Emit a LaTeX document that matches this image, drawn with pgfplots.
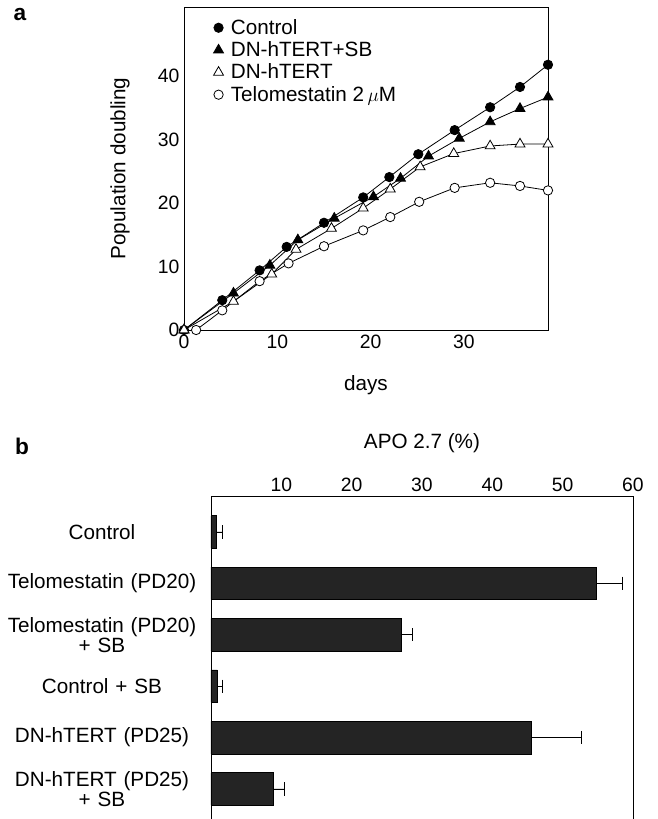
\documentclass[border=0pt]{standalone}
\usepackage{fontspec}
\setmainfont{Liberation Sans}
\usepackage{pgfplots}
\pgfplotsset{compat=1.18}

\begin{document}
\begin{tikzpicture}
\path[use as bounding box] (0,0) rectangle (493.5pt,-614.25pt);
\node[font=\fontsize{17}{19}\selectfont\bfseries] at (15pt,-11.25pt) {a};
\node[font=\fontsize{17}{19}\selectfont\bfseries] at (16.5pt,-334.5pt) {b};

% panel a: population doubling
\begin{axis}[
  at={(138pt,-247.5pt)}, anchor=south west,
  scale only axis, width=273pt, height=242.25pt,
  xmin=0, xmax=39, ymin=0, ymax=50.9,
  xtick={0,10,20,30}, ytick={0,10,...,40},
  major tick length=0pt,
  tick label style={font=\fontsize{14.5}{16}\selectfont},
  /pgf/number format/assume math mode=true,
  xlabel={days}, ylabel={Population doubling},
  label style={font=\fontsize{15.5}{17}\selectfont},
  xlabel style={at={(axis description cs:0.5,-0.170)}, anchor=center},
  ylabel style={at={(axis description cs:-0.176,0.5)}, anchor=center},
  axis line style={line width=0.7pt},
  clip=false,
  legend style={at={(axis description cs:0,1)}, anchor=north west,
    xshift=22pt, yshift=-7.5pt, draw=none, fill=none, inner sep=0pt,
    font=\fontsize{15.5}{17}\selectfont, row sep=1pt,
    nodes={inner sep=1.5pt},
    /tikz/every odd column/.style={column sep=4pt}},
  legend cell align=left,
  legend image code/.code={\draw[#1, only marks] plot coordinates {(0pt,0pt)};},
]
\addplot[black, line width=0.6pt, mark=*, mark size=3.5pt, mark options={fill=black}]
 coordinates {(0,0) (4.1,4.7) (8.1,9.4) (11.0,13.1) (15.0,16.9) (19.2,20.9) (22.0,24.1)
  (25.1,27.7) (29.0,31.5) (32.8,35.1) (36.0,38.3) (39.0,41.8)};
\addlegendentry{Control}
\addplot[black, line width=0.6pt, mark=triangle*, mark size=4.3pt, mark options={fill=black}]
 coordinates {(0,0) (5.3,5.8) (9.2,10.2) (12.2,14.2) (16.1,17.6) (20.3,21.0) (23.2,23.9)
  (26.2,27.4) (29.5,30.2) (32.8,32.8) (36.0,34.9) (39.0,36.7)};
\addlegendentry{DN-hTERT+SB}
\addplot[black, line width=0.6pt, mark=triangle*, mark size=4.3pt, mark options={fill=white}]
 coordinates {(0,0) (5.3,4.5) (9.4,8.8) (12.0,12.7) (15.8,16.0) (19.2,19.2) (22.1,22.2)
  (25.3,25.7) (28.9,27.8) (32.8,29.0) (36.0,29.3) (39.0,29.3)};
\addlegendentry{DN-hTERT}
\addplot[black, line width=0.6pt, mark=*, mark size=3.5pt, mark options={fill=white}]
 coordinates {(1.3,0) (4.1,3.1) (8.1,7.7) (11.2,10.5) (15.0,13.2) (19.2,15.7) (22.1,17.8)
  (25.2,20.2) (29.0,22.4) (32.8,23.2) (36.0,22.7) (39.0,22.0)};
\addlegendentry{Telomestatin 2\,$\mu$M}
\end{axis}

% panel b: APO 2.7
\begin{axis}[
  at={(158.25pt,-614.25pt)}, anchor=south west,
  scale only axis, width=316.5pt, height=242.25pt,
  xmin=0, xmax=60, ymin=-0.584, ymax=5.70,
  xbar, bar width=0.632,
  xtick={10,20,...,60}, xticklabel pos=right,
  ytick={0,1,2,3,4,5},
  yticklabels={{DN-hTERT (PD25)\\+ SB}, {DN-hTERT (PD25)}, {Control + SB},
    {Telomestatin (PD20)\\+ SB}, {Telomestatin (PD20)}, {Control}},
  major tick length=0pt,
  axis line style={draw=none},
  xticklabel style={font=\fontsize{14.5}{16}\selectfont},
  /pgf/number format/assume math mode=true,
  yticklabel style={text width=170pt, align=center, anchor=center, xshift=-81.75pt,
    font=\fontsize{15.5}{12.5}\selectfont},
  xlabel={APO 2.7 (\%)},
  xlabel style={at={(axis description cs:0.5,1.164)}, anchor=center,
    font=\fontsize{15.5}{17}\selectfont},
  clip=false,
]
\addplot[fill=black!86, draw=black, line width=0.5pt,
  error bars/.cd, x dir=plus, x explicit, error mark=|,
  error bar style={black, line width=0.7pt},
  error mark options={black, line width=0.7pt, mark size=5pt}]
 coordinates {(8.9,0) +- (1.5,0) (45.6,1) +- (7.1,0) (0.9,2) +- (0.7,0)
  (27.0,3) +- (1.7,0) (54.8,4) +- (3.7,0) (0.8,5) +- (0.9,0)};
\draw[line width=0.7pt] (rel axis cs:0,0) -- (rel axis cs:0,1) -- (rel axis cs:1,1) -- (rel axis cs:1,0);
\end{axis}
\end{tikzpicture}
\end{document}
